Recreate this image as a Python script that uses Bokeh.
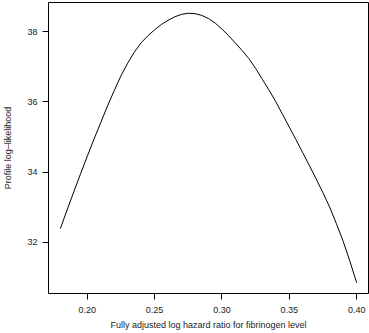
from bokeh.plotting import figure
from bokeh.models import Range1d, FixedTicker
from bokeh.embed import file_html
from bokeh.resources import INLINE

# Profile log-likelihood
log_hr = [0.18, 0.185, 0.19, 0.195, 0.20, 0.205, 0.21, 0.215, 0.22, 0.225,
          0.23, 0.235, 0.24, 0.245, 0.25, 0.255, 0.26, 0.265, 0.27, 0.275,
          0.28, 0.285, 0.29, 0.295, 0.30, 0.305, 0.31, 0.315, 0.32, 0.325,
          0.33, 0.335, 0.34, 0.345, 0.35, 0.355, 0.36, 0.365, 0.37, 0.375,
          0.38, 0.385, 0.39, 0.395, 0.40]
profile_ll = [32.39, 32.92, 33.44, 33.95, 34.45, 34.94, 35.41, 35.88, 36.32, 36.74,
              37.10, 37.42, 37.68, 37.88, 38.05, 38.20, 38.32, 38.42, 38.49, 38.52,
              38.51, 38.46, 38.37, 38.24, 38.07, 37.88, 37.67, 37.46, 37.23, 36.95,
              36.64, 36.33, 36.00, 35.64, 35.28, 34.92, 34.55, 34.18, 33.80, 33.41,
              33.00, 32.53, 32.03, 31.46, 30.85]

x_ticks = [0.20, 0.25, 0.30, 0.35, 0.40]
y_ticks = [32, 34, 36, 38]
x_title = "Fully adjusted log hazard ratio for fibrinogen level"
y_title = "Profile log\u2013likelihood"

FONT = "Liberation Sans"
TXT = "#1a1a1a"


def padded(vals, frac=0.04):
    lo, hi = min(vals), max(vals)
    d = (hi - lo) * frac
    return lo - d, hi + d


x0, x1 = padded(log_hr)
y0, y1 = padded(profile_ll)

p = figure(width=369, height=333, output_backend="svg", toolbar_location=None,
           x_range=Range1d(x0, x1), y_range=Range1d(y0, y1),
           min_border_left=45, min_border_right=1, min_border_top=2,
           min_border_bottom=40)

p.line(log_hr, profile_ll, line_color="black", line_width=1)

p.grid.visible = False
p.outline_line_color = "black"
p.outline_line_width = 1
p.background_fill_color = "white"
p.border_fill_color = "white"

for ax in (p.xaxis[0], p.yaxis[0]):
    ax.axis_line_color = None
    ax.major_tick_line_color = "black"
    ax.major_tick_in = 0
    ax.major_tick_out = 6
    ax.minor_tick_line_color = None
    ax.major_label_text_font = FONT
    ax.major_label_text_font_size = "9px"
    ax.major_label_text_color = TXT
    ax.axis_label_text_font = FONT
    ax.axis_label_text_font_size = "9px"
    ax.axis_label_text_font_style = "normal"
    ax.axis_label_text_color = TXT

p.xaxis[0].ticker = FixedTicker(ticks=x_ticks)
p.yaxis[0].ticker = FixedTicker(ticks=y_ticks)
p.xaxis[0].major_label_overrides = {t: f"{t:.2f}" for t in x_ticks}
p.yaxis[0].major_label_overrides = {t: str(t) for t in y_ticks}
p.xaxis[0].axis_label = x_title
p.yaxis[0].axis_label = y_title
p.xaxis[0].major_label_standoff = 7
p.xaxis[0].axis_label_standoff = 4
p.yaxis[0].major_label_standoff = 5
p.yaxis[0].axis_label_standoff = 11
p.yaxis[0].major_label_orientation = "horizontal"

open("out.html", "w").write(file_html(p, INLINE))
